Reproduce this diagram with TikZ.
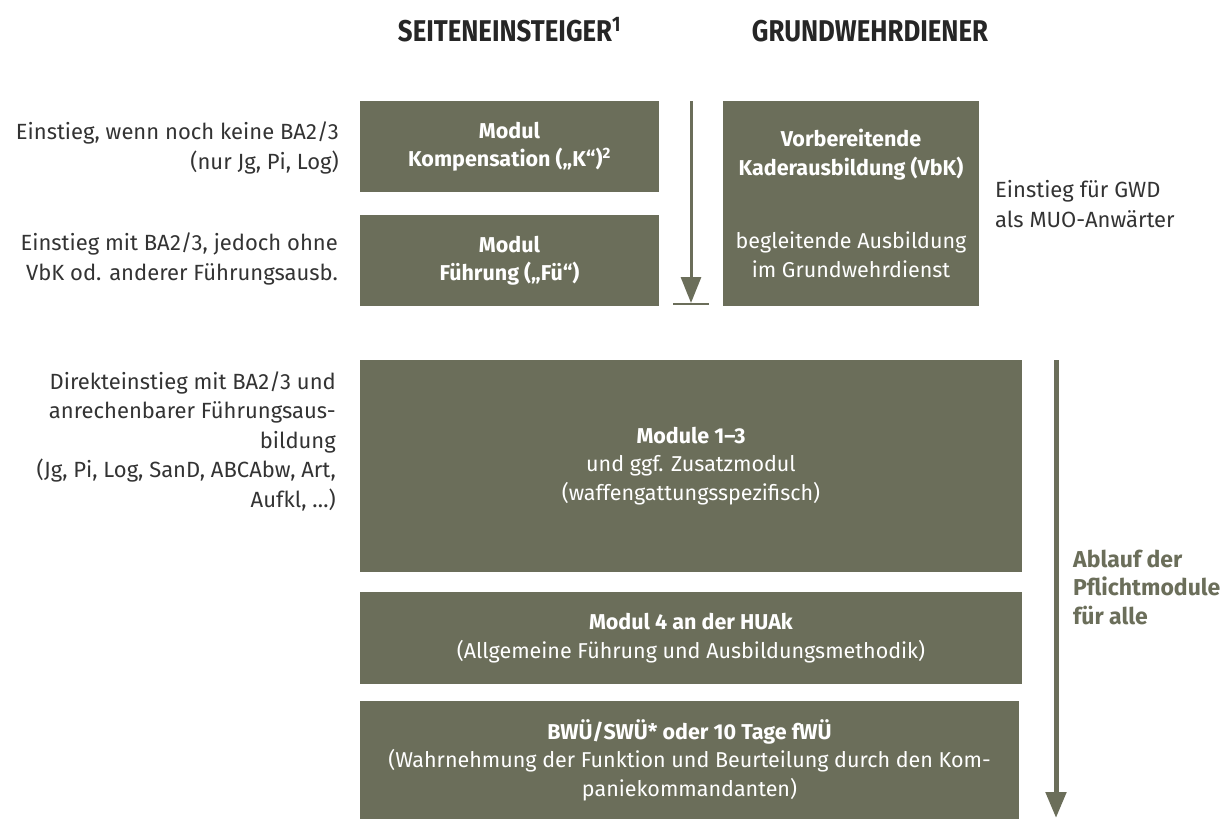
\documentclass[tikz,border=0pt]{standalone}
\usepackage{fontspec}
\setmainfont{Fira Sans}
\newfontfamily\kopffont[FakeStretch=0.86]{Fira Sans}
\usetikzlibrary{arrows.meta}
\definecolor{olivgrau}{rgb}{0.42,0.431,0.353}
\definecolor{textgrau}{rgb}{0.2,0.2,0.2}
\tikzstyle{every node}=[font=\fontsize{21.5}{28.5}\selectfont]
\tikzstyle{kasten}=[fill=olivgrau,text=white,align=center,inner sep=0pt]
\tikzstyle{hinweis}=[text=textgrau,inner sep=0pt,font=\fontsize{22}{29.5}\selectfont]
\tikzstyle{kopf}=[font=\kopffont\bfseries\fontsize{30}{32}\selectfont,text=black!85,anchor=base]
\tikzstyle{pfeil}=[olivgrau,-{Triangle[width=20pt,length=26pt]}]

\begin{document}
\begin{tikzpicture}[x=1pt,y=-1pt]
  \useasboundingbox (0,0) rectangle (1229,819);
  % Kopfzeile
  \node[kopf] (seite) at (509.5,41) {SEITENEINSTEIGER\textsuperscript{1}};
  \node[kopf] (gwd) at (870,41) {GRUNDWEHRDIENER};
  % Module fuer Seiteneinsteiger und GWD
  \node[kasten,minimum width=299pt,minimum height=91pt] (komp) at (509.5,146.5)
    {\textbf{Modul}\\\textbf{Kompensation („K“)\textsuperscript{2}}};
  \node[kasten,minimum width=299pt,minimum height=91pt] (fue) at (509.5,260.5)
    {\textbf{Modul}\\\textbf{Führung („Fü“)}};
  \node[kasten,minimum width=256pt,minimum height=205pt] (vbk) at (851,203.5)
    {\textbf{Vorbereitende}\\\textbf{Kaderausbildung (VbK)}\\[45pt]begleitende Ausbildung\\im Grundwehrdienst};
  % Pflichtmodule
  \node[kasten,minimum width=662pt,minimum height=212pt] (mod13) at (691,466)
    {\textbf{Module 1–3}\\und ggf. Zusatzmodul\\(waffengattungsspezifisch)};
  \node[kasten,minimum width=662pt,minimum height=92pt] (mod4) at (691,638)
    {\textbf{Modul 4 an der HUAk}\\(Allgemeine Führung und Ausbildungsmethodik)};
  \node[kasten,minimum width=659pt,minimum height=118pt] (bwue) at (689.5,760)
    {\textbf{BWÜ/SWÜ* oder 10 Tage fWÜ}\\(Wahrnehmung der Funktion und Beurteilung durch den Kom-\\paniekommandanten)};
  % Hinweise links
  \node[hinweis,align=right,anchor=east] (einK) at (339,148)
    {Einstieg, wenn noch keine BA2/3\\(nur Jg, Pi, Log)};
  \node[hinweis,align=right,anchor=east] (einF) at (338,259)
    {Einstieg mit BA2/3, jedoch ohne\\VbK od. anderer Führungsausb.};
  \node[hinweis,align=right,anchor=east] (einD) at (336,441)
    {Direkteinstieg mit BA2/3 und\\anrechenbarer Führungsaus-\\bildung\\(Jg, Pi, Log, SanD, ABCAbw, Art,\\Aufkl, …)};
  % Hinweise rechts
  \node[hinweis,align=left,anchor=west] (einG) at (995,204)
    {Einstieg für GWD\\als MUO-Anwärter};
  \node[hinweis,align=left,anchor=west,text=olivgrau,font=\bfseries\fontsize{23}{28.5}\selectfont] (ablauf) at (1073,587)
    {Ablauf der\\Pflichtmodule\\für alle};
  % Pfeile
  \coordinate (vorA) at (691,101);
  \coordinate (vorB) at (691,303);
  \coordinate (balkenL) at (673,304);
  \coordinate (balkenR) at (709,304);
  \draw[pfeil,line width=3pt] (vorA) -- (vorB);
  \draw[olivgrau,line width=2pt] (balkenL) -- (balkenR);
  \coordinate (ablaufA) at (1056,360);
  \coordinate (ablaufB) at (1056,818);
  \draw[pfeil,line width=5pt] (ablaufA) -- (ablaufB);
\end{tikzpicture}
\end{document}
